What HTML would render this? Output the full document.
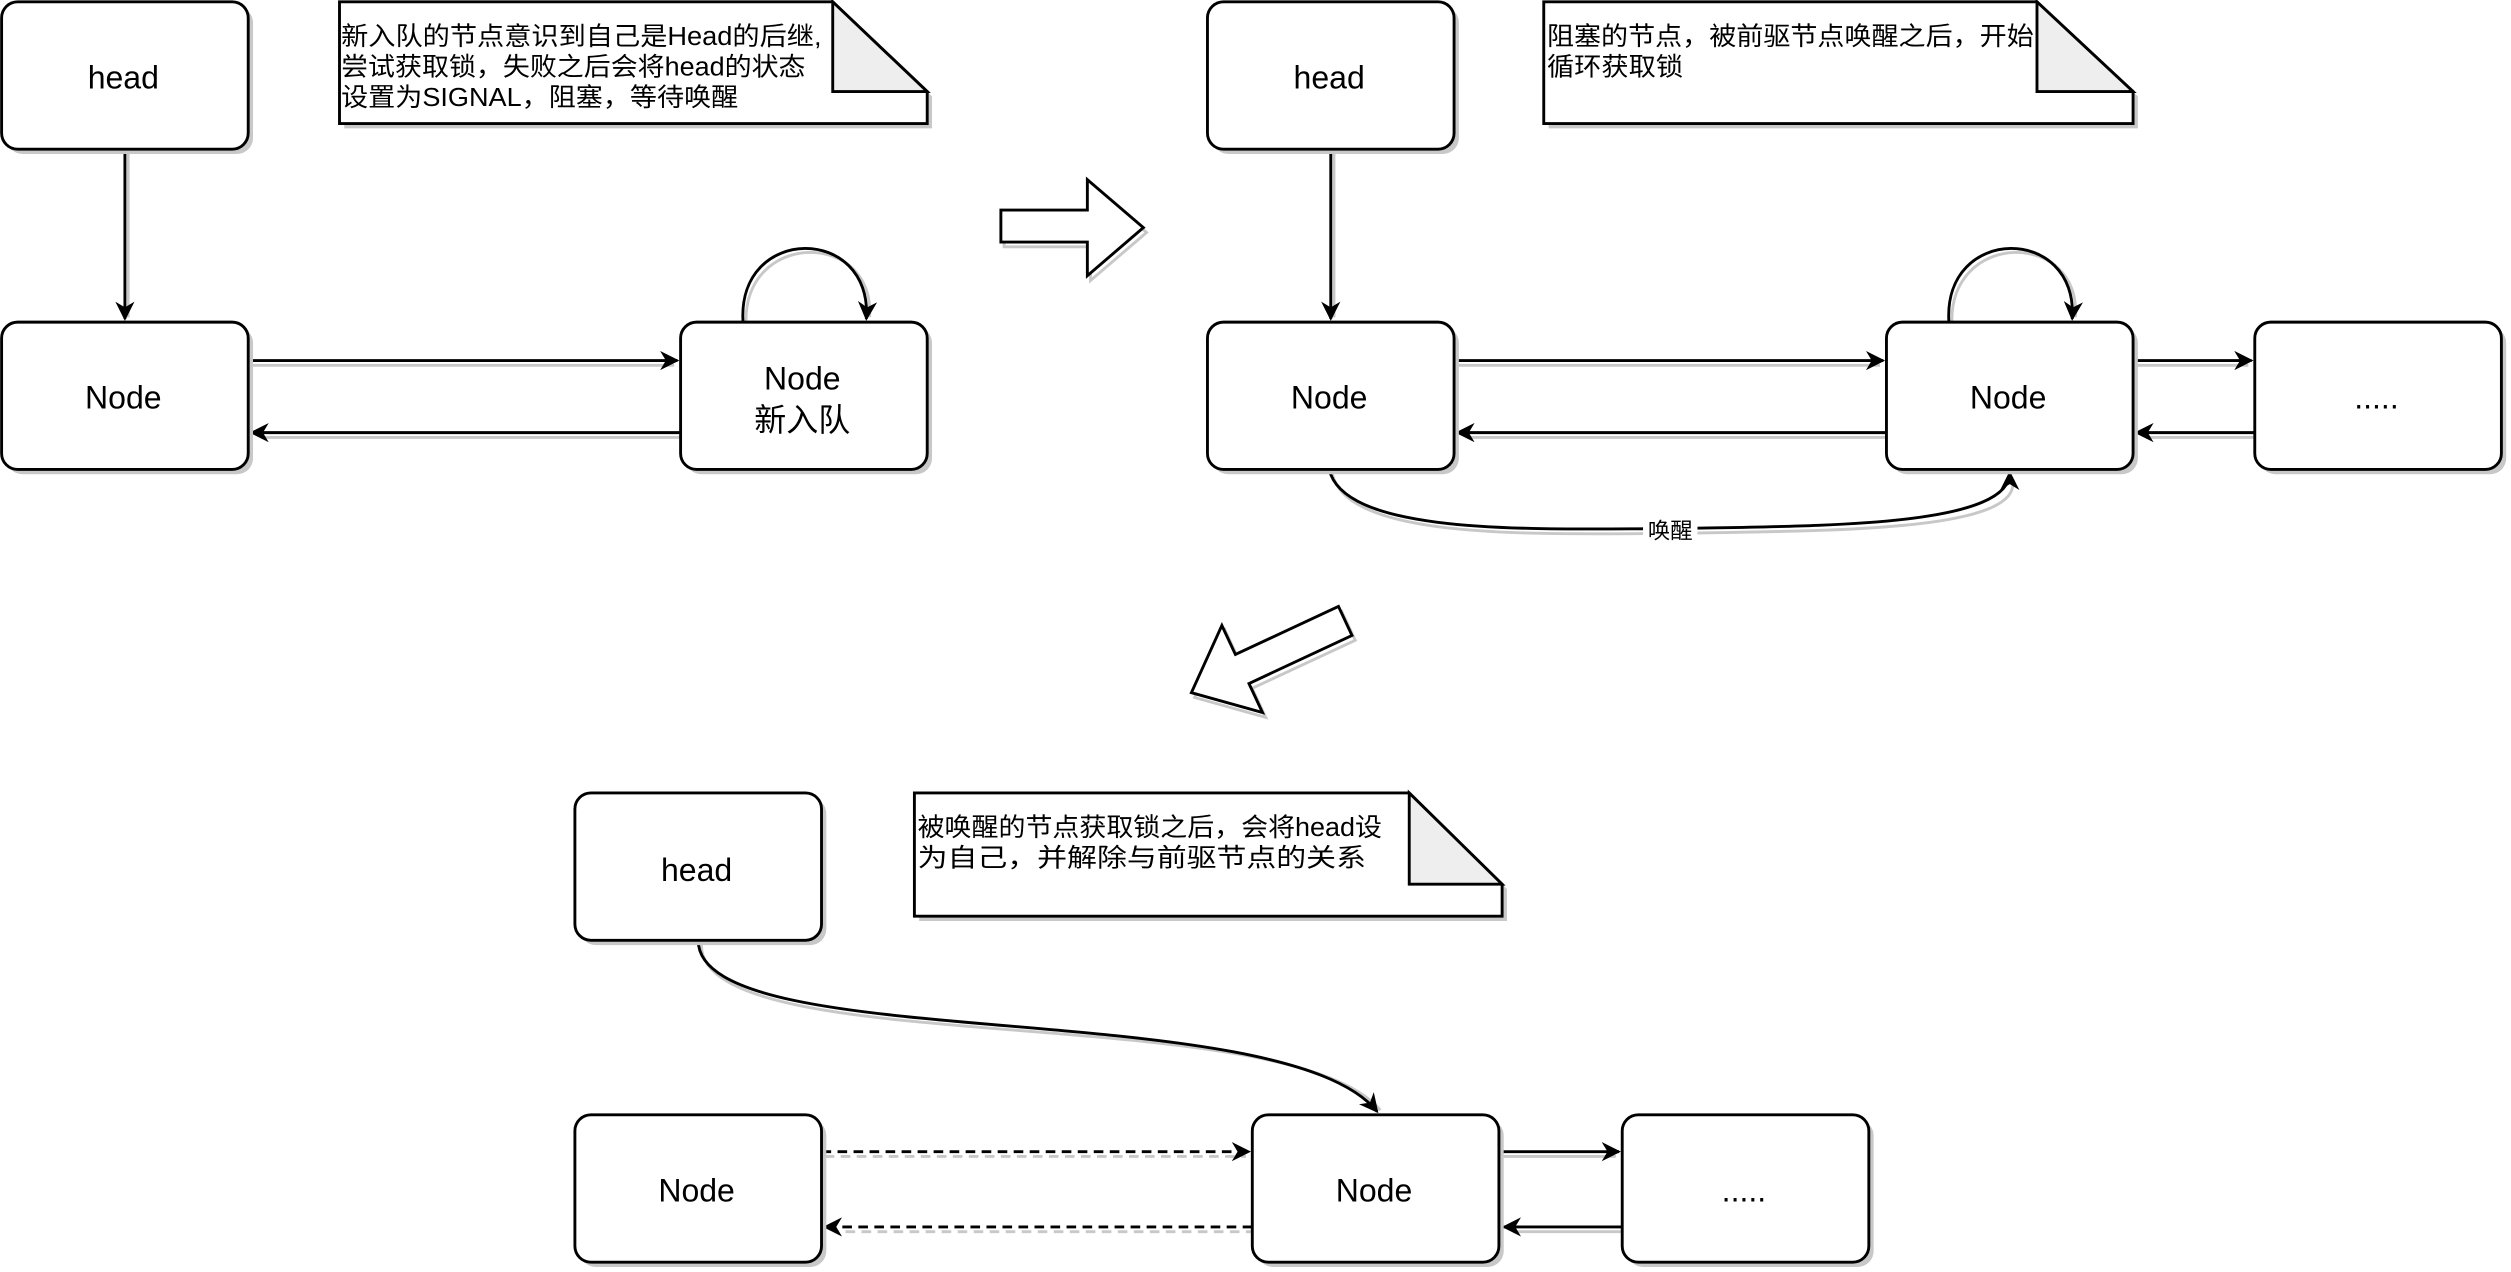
<!DOCTYPE html>
<html><head><meta charset="utf-8"><style>
html,body{margin:0;padding:0;background:#fff}
svg{display:block}
text{font-family:"Liberation Sans","Noto Sans CJK SC",sans-serif;fill:#000}
</style></head><body>
<svg width="2511" height="1272" viewBox="0 0 1568 794" xmlns="http://www.w3.org/2000/svg">
<defs>
<marker id="a" viewBox="0 0 10 10" refX="9" refY="5" markerWidth="12" markerHeight="12" orient="auto" markerUnits="userSpaceOnUse">
<path d="M0,0 L10,5 L0,10 L3,5 Z" fill="#000"/></marker>
</defs>
<g fill="none" stroke-width="1.8">
<g stroke="#c8c8c8" transform="translate(2,3)">
<path d="M78 93 V195"/>
<path d="M155 225 H419"/><path d="M425 270 H161"/>
<path d="M464 201 C460 140 545 140 541 195"/>
<path d="M831 93 V195"/>
<path d="M908 225 H1172"/><path d="M1178 270 H914"/>
<path d="M1217 201 C1213 140 1298 140 1294 195"/>
<path d="M1332 225 H1402"/><path d="M1408 270 H1338"/>
<path d="M830 293 C840 335 960 330 1043 330 C1130 328 1255 330 1255 299"/>
<path d="M436 587 C436 660 800 620 860 690"/>
<path d="M937 719 H1007"/><path d="M1013 766 H943"/>
<path d="M513 719 H776" stroke-dasharray="6 4"/><path d="M782 766 H519" stroke-dasharray="6 4"/>
</g>
<g stroke="#000" marker-end="url(#a)">
<path d="M78 93 V199"/>
<path d="M155 225 H423"/><path d="M425 270 H157"/>
<path d="M464 201 C460 140 545 140 541 199"/>
<path d="M831 93 V199"/>
<path d="M908 225 H1176"/><path d="M1178 270 H910"/>
<path d="M1217 201 C1213 140 1298 140 1294 199"/>
<path d="M1332 225 H1406"/><path d="M1408 270 H1334"/>
<path d="M830 293 C840 335 960 330 1043 330 C1130 328 1255 330 1255 295"/>
<path d="M436 587 C436 660 800 620 860 694"/>
<path d="M937 719 H1011"/><path d="M1013 766 H939"/>
<path d="M513 719 H780" stroke-dasharray="6 4"/><path d="M782 766 H515" stroke-dasharray="6 4"/>
</g>
</g>
<rect x="1026" y="322" width="34" height="17" fill="#fff"/>
<text x="1043" y="336" font-size="14" text-anchor="middle">唤醒</text>
<g stroke-width="1.8">
<g fill="#c8c8c8" stroke="none" transform="translate(3,3)">
<rect x="1" y="1" width="154" height="92" rx="10"/>
<rect x="1" y="201" width="154" height="92" rx="10"/>
<rect x="425" y="201" width="154" height="92" rx="10"/>
<rect x="754" y="1" width="154" height="92" rx="10"/>
<rect x="754" y="201" width="154" height="92" rx="10"/>
<rect x="1178" y="201" width="154" height="92" rx="10"/>
<rect x="1408" y="201" width="154" height="92" rx="10"/>
<rect x="359" y="495" width="154" height="92" rx="10"/>
<rect x="359" y="696" width="154" height="92" rx="10"/>
<rect x="782" y="696" width="154" height="92" rx="10"/>
<rect x="1013" y="696" width="154" height="92" rx="10"/>
<path d="M212 1 H520 L579 57 V77 H212 Z"/>
<path d="M964 1 H1272 L1332 57 V77 H964 Z"/>
<path d="M571 495 H880 L938 552 V572 H571 Z"/>
</g>
<g fill="#fff" stroke="#000">
<rect x="1" y="1" width="154" height="92" rx="10"/>
<rect x="1" y="201" width="154" height="92" rx="10"/>
<rect x="425" y="201" width="154" height="92" rx="10"/>
<rect x="754" y="1" width="154" height="92" rx="10"/>
<rect x="754" y="201" width="154" height="92" rx="10"/>
<rect x="1178" y="201" width="154" height="92" rx="10"/>
<rect x="1408" y="201" width="154" height="92" rx="10"/>
<rect x="359" y="495" width="154" height="92" rx="10"/>
<rect x="359" y="696" width="154" height="92" rx="10"/>
<rect x="782" y="696" width="154" height="92" rx="10"/>
<rect x="1013" y="696" width="154" height="92" rx="10"/>
<path d="M212 1 H520 L579 57 V77 H212 Z"/>
<path d="M964 1 H1272 L1332 57 V77 H964 Z"/>
<path d="M571 495 H880 L938 552 V572 H571 Z"/>
</g>
<g fill="#eee" stroke="#000">
<path d="M520 1 V57 H579 Z"/>
<path d="M1272 1 V57 H1332 Z"/>
<path d="M880 495 V552 H938 Z"/>
</g>
<polygon points="625,131 679,131 679,112 714,142 679,172 679,151 625,151" fill="none" stroke="#c8c8c8" transform="translate(2,3)"/>
<polygon points="625,131 679,131 679,112 714,142 679,172 679,151 625,151" fill="#fff" stroke="#000"/>
<g transform="translate(792,410) rotate(155)">
<polygon points="-53,-10 18,-10 18,-30 53,0 18,30 18,10 -53,10" fill="none" stroke="#c8c8c8" transform="rotate(-155) translate(2,3) rotate(155)"/>
<polygon points="-53,-10 18,-10 18,-30 53,0 18,30 18,10 -53,10" fill="#fff" stroke="#000"/>
</g>
</g>
<g font-size="20" text-anchor="middle">
<text x="77" y="55">head</text>
<text x="77" y="255">Node</text>
<text x="501" y="243">Node</text>
<text x="501" y="269">新入队</text>
<text x="830" y="55">head</text>
<text x="830" y="255">Node</text>
<text x="1254" y="255">Node</text>
<text x="1484" y="255">.....</text>
<text x="435" y="550">head</text>
<text x="435" y="750">Node</text>
<text x="858" y="750">Node</text>
<text x="1089" y="750">.....</text>
</g>
<g font-size="16">
<text x="213" y="28" textLength="300" lengthAdjust="spacingAndGlyphs">新入队的节点意识到自己是Head的后继,</text>
<text x="213" y="47" textLength="290" lengthAdjust="spacingAndGlyphs">尝试获取锁，失败之后会将head的状态</text>
<text x="213" y="66" textLength="248" lengthAdjust="spacingAndGlyphs">设置为SIGNAL，阻塞，等待唤醒</text>
<text x="966" y="28" textLength="304" lengthAdjust="spacingAndGlyphs">阻塞的节点，被前驱节点唤醒之后，开始</text>
<text x="966" y="47" textLength="85" lengthAdjust="spacingAndGlyphs">循环获取锁</text>
<text x="573" y="522" textLength="290" lengthAdjust="spacingAndGlyphs">被唤醒的节点获取锁之后，会将head设</text>
<text x="573" y="541" textLength="280" lengthAdjust="spacingAndGlyphs">为自己，并解除与前驱节点的关系</text>
</g>
</svg>
</body></html>
